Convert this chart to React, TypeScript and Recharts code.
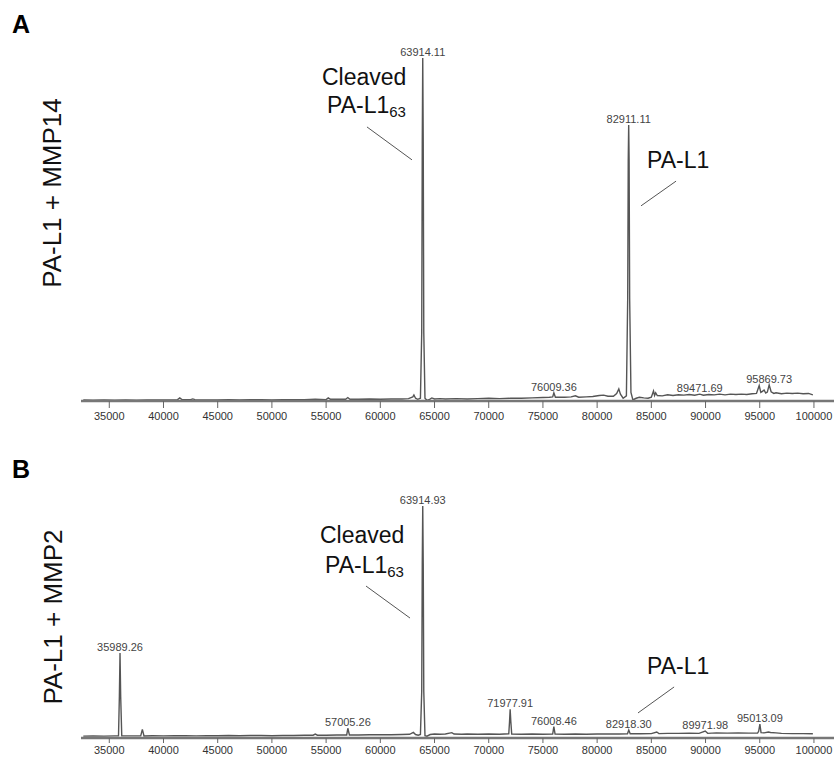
import React from "react";
import { LineChart, Line, XAxis, YAxis, LabelList, ReferenceLine } from "recharts";

// mass (Da), relative intensity (%)
const SPECTRUM_MMP14: [number, number][] = [
  [32600, 0.3], [33500, 0.2], [34500, 0.3], [35500, 0.2], [36500, 0.3], [37500, 0.2], [38500, 0.3],
  [39500, 0.3], [40500, 0.3], [41300, 0.4], [41500, 0.9], [41700, 0.4], [42500, 0.4], [42700, 0.6],
  [42900, 0.4], [44000, 0.3], [45000, 0.3], [46000, 0.4], [47000, 0.3], [48000, 0.4], [49000, 0.4],
  [50000, 0.3], [51000, 0.4], [52000, 0.4], [53000, 0.4], [54000, 0.5], [55000, 0.4], [55200, 0.9],
  [55400, 0.5], [56000, 0.5], [56800, 0.5], [57000, 1.0], [57200, 0.5], [58000, 0.5], [59000, 0.6],
  [60000, 0.5], [61000, 0.6], [62000, 0.6], [62600, 0.7], [63000, 1.2], [63100, 1.75], [63250, 0.8],
  [63450, 0.5], [63700, 0.8], [63820, 20], [63870, 75], [63914, 100], [63960, 75], [64010, 20],
  [64120, 0.8], [64300, 0.2], [64550, 0.5], [64750, 0.9], [65000, 0.6], [65500, 0.7], [66000, 0.6],
  [67000, 0.7], [68000, 0.6], [69000, 0.7], [70000, 0.8], [71000, 0.7], [72000, 0.8], [73000, 0.8],
  [74000, 0.9], [75000, 1.0], [75600, 1.1], [75900, 1.2], [76009, 2.4], [76150, 1.1], [77000, 1.1],
  [77600, 1.2], [78000, 1.5], [78300, 1.1], [79000, 1.2], [79600, 1.3], [80200, 1.6], [80600, 1.7],
  [81000, 1.4], [81500, 1.4], [81800, 2.2], [82000, 3.5], [82150, 2.0], [82400, 0.8], [82700, 1.5],
  [82820, 30], [82870, 70], [82911, 80.5], [82950, 70], [83000, 30], [83120, 2.5], [83300, 0.3],
  [83600, 0.8], [83900, 1.1], [84300, 0.9], [84700, 0.8], [85000, 1.1], [85200, 2.9], [85300, 1.6],
  [85400, 2.4], [85550, 1.6], [86000, 1.5], [86500, 1.8], [87000, 1.6], [87500, 1.8], [88000, 1.7],
  [88500, 1.9], [89000, 1.7], [89471, 2.0], [89800, 1.7], [90300, 1.9], [90800, 1.8], [91300, 2.0],
  [91800, 1.8], [92300, 2.0], [92800, 1.9], [93300, 2.0], [93800, 1.9], [94300, 2.1], [94700, 2.2],
  [94950, 4.5], [95100, 2.5], [95250, 2.8], [95400, 3.2], [95550, 2.3], [95700, 2.6], [95869, 4.7],
  [96050, 2.7], [96300, 2.2], [96500, 2.4], [97000, 2.1], [97500, 2.3], [98000, 2.2], [98500, 2.3],
  [99000, 2.1], [99500, 2.2], [99900, 1.8],
];

const SPECTRUM_MMP2: [number, number][] = [
  [32600, 0.8], [33500, 0.9], [34500, 0.8], [35500, 0.9], [35850, 0.9], [35930, 18], [35989, 36.6],
  [36050, 18], [36150, 0.9], [37000, 0.9], [37900, 0.9], [38050, 3.7], [38200, 0.9], [39000, 1.0],
  [40000, 0.9], [41000, 1.0], [42000, 1.0], [43000, 0.9], [44000, 1.0], [45000, 1.0], [46000, 1.1],
  [47000, 1.0], [48000, 1.1], [49000, 1.1], [50000, 1.0], [51000, 1.1], [52000, 1.1], [53000, 1.2],
  [53800, 1.2], [54000, 1.7], [54200, 1.2], [55000, 1.2], [56000, 1.3], [56900, 1.3], [57005, 4.2],
  [57150, 1.3], [58000, 1.3], [59000, 1.4], [60000, 1.4], [61000, 1.4], [62000, 1.5], [62700, 1.6],
  [63050, 2.4], [63250, 1.5], [63500, 1.2], [63700, 1.5], [63820, 20], [63870, 75], [63914, 100],
  [63960, 75], [64010, 20], [64120, 1.0], [64300, 0.8], [64600, 1.5], [65000, 1.7], [65500, 1.6],
  [66000, 1.7], [66600, 2.3], [66800, 1.7], [67500, 1.6], [68000, 1.7], [69000, 1.6], [70000, 1.7],
  [71000, 1.6], [71850, 1.8], [71920, 7], [71977, 12.4], [72040, 7], [72120, 1.7], [73000, 1.6],
  [74000, 1.7], [75000, 1.6], [75900, 1.7], [76008, 4.9], [76120, 1.7], [77000, 1.6], [78000, 1.7],
  [79000, 1.6], [80000, 1.7], [81000, 1.7], [82000, 1.7], [82800, 1.8], [82918, 3.4], [83050, 1.8],
  [84000, 1.8], [85000, 1.9], [85500, 2.6], [85700, 1.9], [86500, 2.0], [87500, 2.0], [88500, 2.1],
  [89400, 2.0], [89971, 3.0], [90200, 2.0], [91000, 2.2], [92000, 2.1], [93000, 2.2], [94000, 2.1],
  [94800, 2.1], [94900, 2.9], [95013, 6.0], [95120, 2.3], [95400, 2.2], [95800, 2.6], [96000, 2.4],
  [96500, 2.2], [97000, 2.0], [98000, 1.9], [99000, 1.9], [99900, 1.8],
];

const PEAKS_MMP14: [number, string][] = [
  [63914, "63914.11"], [76009, "76009.36"], [82911, "82911.11"], [89471, "89471.69"], [95869, "95869.73"],
];
const PEAKS_MMP2: [number, string][] = [
  [35989, "35989.26"], [57005, "57005.26"], [63914, "63914.93"], [71977, "71977.91"],
  [76008, "76008.46"], [82918, "82918.30"], [89971, "89971.98"], [95013, "95013.09"],
];

const MASS_TICKS = [35000, 40000, 45000, 50000, 55000, 60000, 65000, 70000, 75000, 80000, 85000, 90000, 95000, 100000];
const MASS_DOMAIN: [number, number] = [32390, 101850];

// pointer lines, in data coordinates: [mass, intensity] -> [mass, intensity]
const POINTERS_MMP14 = [
  [[58770, 79.9], [62920, 70.3]],
  [[87280, 64.1], [84050, 56.9]],
];
const POINTERS_MMP2 = [
  [[58680, 65.5], [62740, 51.7]],
  [[87100, 22.0], [83770, 10.8]],
];

const FONT = '"Liberation Sans", Arial, sans-serif';
const TRACE = "#555";

function toRows(spec: [number, number][], peaks: [number, string][]) {
  const lbl = new Map(peaks);
  return spec.map(([m, v]) => ({ m, v, lbl: lbl.get(m) }));
}

function PeakLabel(props: any) {
  const { x, y, value } = props;
  if (!value) return null;
  return (
    <text x={x} y={y - 2} textAnchor="middle" fontSize={11} fill="#444" fontFamily={FONT}>
      {value}
    </text>
  );
}

function Spectrum({ spec, peaks, pointers, height, marginTop, axisHeight, tickSize, tickMargin }: any) {
  const rows = toRows(spec, peaks);
  return (
    <LineChart width={834} height={height} data={rows} margin={{ top: marginTop, right: 0, left: 81, bottom: 0 }}>
      <XAxis
        dataKey="m" type="number" domain={MASS_DOMAIN} ticks={MASS_TICKS} allowDataOverflow
        height={axisHeight} tickSize={tickSize} tickMargin={tickMargin}
        axisLine={{ stroke: "#777", strokeWidth: 2.5 }} tickLine={{ stroke: "#666" }}
        tick={{ fontSize: 11, fill: "#333", fontFamily: FONT }} interval={0}
      />
      <YAxis hide domain={[0, 100]} allowDataOverflow />
      {pointers.map((seg: number[][], i: number) => (
        <ReferenceLine
          key={i}
          segment={[{ x: seg[0][0], y: seg[0][1] }, { x: seg[1][0], y: seg[1][1] }]}
          stroke="#555" strokeWidth={1}
        />
      ))}
      <Line type="linear" dataKey="v" stroke={TRACE} strokeWidth={1.4} dot={false} isAnimationActive={false}>
        <LabelList dataKey="lbl" content={PeakLabel} />
      </Line>
    </LineChart>
  );
}

function Sub63({ x, y }: { x: number; y: number }) {
  return (
    <text x={x} y={y} fontSize={23} fontFamily={FONT} fill="#111">
      PA-L1<tspan fontSize={15} dy={4}>63</tspan>
    </text>
  );
}

export default function App() {
  return (
    <div style={{ position: "absolute", left: 0, top: 0, width: 834, height: 760, background: "#fff" }}>
      <div style={{ position: "absolute", left: 0, top: 0 }}>
        <Spectrum spec={SPECTRUM_MMP14} peaks={PEAKS_MMP14} pointers={POINTERS_MMP14}
          height={430} marginTop={58} axisHeight={29} tickSize={7} tickMargin={4} />
      </div>
      <div style={{ position: "absolute", left: 0, top: 430 }}>
        <Spectrum spec={SPECTRUM_MMP2} peaks={PEAKS_MMP2} pointers={POINTERS_MMP2}
          height={330} marginTop={76} axisHeight={22} tickSize={5} tickMargin={3} />
      </div>
      <svg width={834} height={760} style={{ position: "absolute", left: 0, top: 0, pointerEvents: "none" }}>
        <text x={12} y={33} fontSize={25} fontWeight="bold" fontFamily={FONT} fill="#000">A</text>
        <text x={12} y={478} fontSize={25} fontWeight="bold" fontFamily={FONT} fill="#000">B</text>
        <text transform="translate(61,193) rotate(-90)" textAnchor="middle" fontSize={26} fontFamily={FONT} fill="#111">
          PA-L1 + MMP14
        </text>
        <text transform="translate(62,617) rotate(-90)" textAnchor="middle" fontSize={26} fontFamily={FONT} fill="#111">
          PA-L1 + MMP2
        </text>
        <text x={322} y={85} fontSize={23} fontFamily={FONT} fill="#111">Cleaved</text>
        <Sub63 x={327} y={113} />
        <text x={647} y={168} fontSize={23} fontFamily={FONT} fill="#111">PA-L1</text>
        <text x={320} y={543} fontSize={23} fontFamily={FONT} fill="#111">Cleaved</text>
        <Sub63 x={325} y={573} />
        <text x={647} y={674} fontSize={23} fontFamily={FONT} fill="#111">PA-L1</text>
      </svg>
    </div>
  );
}
